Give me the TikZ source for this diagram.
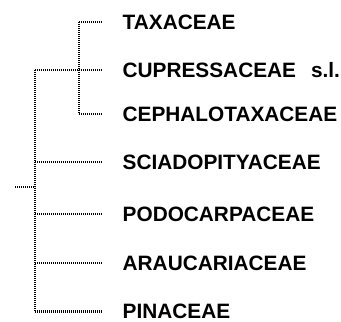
\documentclass[tikz,border=0pt]{standalone}
\usepackage{fontspec}
\setmainfont{Liberation Sans}
\begin{document}
\begin{tikzpicture}[x=1pt,y=-1pt,
  br/.style={line width=2.7pt, dash pattern=on 1.2pt off 0.8pt, draw=black},
  tip/.style={br, shorten >=20.5pt},
  taxon/.style={anchor=west, inner sep=0pt, font=\fontsize{20.8}{24}\selectfont\bfseries}]
\useasboundingbox (0,0) rectangle (341,322);
% taxa
\node[taxon] (taxa) at (122.5,22) {TAXACEAE};
\node[taxon] (cupr) at (122.5,70) {CUPRESSACEAE\hspace{15pt}s.l.};
\node[taxon] (ceph) at (122.5,114) {CEPHALOTAXACEAE};
\node[taxon] (scia) at (122.5,162) {SCIADOPITYACEAE};
\node[taxon] (podo) at (122.5,214) {PODOCARPACEAE};
\node[taxon] (arau) at (122.5,263) {ARAUCARIACEAE};
\node[taxon] (pina) at (122.5,311.5) {PINACEAE};
% internal nodes
\coordinate (root) at (15,187);
\coordinate (n1) at (35,187);
\coordinate (n2) at (79,70);
% root stub and verticals
\draw[br] (root) -- (n1);
\draw[br] (n1 |- cupr) -- (n1 |- pina);
\draw[br] (n2 |- taxa) -- (n2 |- ceph);
% branches to tips
\draw[tip] (n2 |- taxa) -- (taxa.west);
\draw[tip] (n1 |- cupr) -- (cupr.west);
\draw[tip] (n2 |- ceph) -- (ceph.west);
\draw[tip] (n1 |- scia) -- (scia.west);
\draw[tip] (n1 |- podo) -- (podo.west);
\draw[tip] (n1 |- arau) -- (arau.west);
\draw[tip] (n1 |- pina) -- (pina.west);
\end{tikzpicture}
\end{document}
